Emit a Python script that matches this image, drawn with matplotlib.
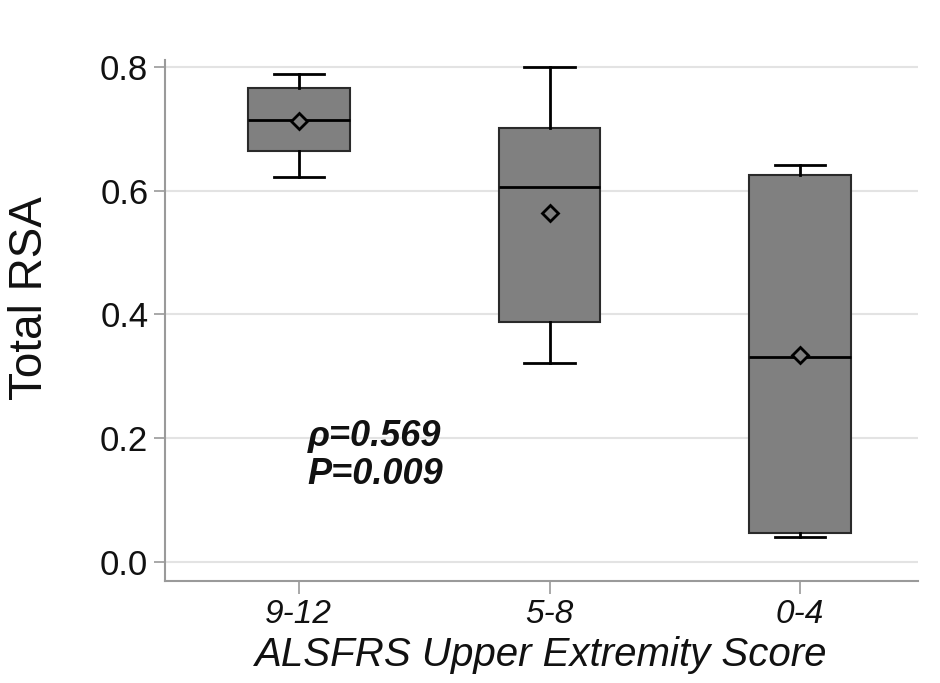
import matplotlib.pyplot as plt

# --- data ---
groups = ["9-12", "5-8", "0-4"]
whisker_low = [0.622, 0.322, 0.040]
q1 = [0.664, 0.388, 0.047]
medians = [0.714, 0.606, 0.331]
q3 = [0.766, 0.701, 0.625]
whisker_high = [0.789, 0.800, 0.642]
means = [0.713, 0.564, 0.335]
y_ticks = [0.0, 0.2, 0.4, 0.6, 0.8]

stats = []
for i, name in enumerate(groups):
    stats.append({
        "label": name,
        "whislo": whisker_low[i],
        "q1": q1[i],
        "med": medians[i],
        "q3": q3[i],
        "whishi": whisker_high[i],
        "mean": means[i],
        "fliers": [],
    })

plt.rcParams['font.family'] = ['Liberation Sans', 'DejaVu Sans']

fig = plt.figure(figsize=(9.4, 6.83), dpi=100)
ax = fig.add_axes([0.1755, 0.1493, 0.8011, 0.7627])

# grid first so boxes sit on top
for v in y_ticks:
    ax.axhline(v, color='#e3e3e3', lw=1.5, zorder=0)

ax.bxp(stats, positions=[1, 2, 3], widths=0.405, patch_artist=True,
       showmeans=True, showfliers=False,
       boxprops=dict(facecolor='#808080', edgecolor='#2a2a2a', lw=1.5),
       medianprops=dict(color='black', lw=2),
       whiskerprops=dict(color='black', lw=2),
       capprops=dict(color='black', lw=2),
       capwidths=0.2,
       meanprops=dict(marker='D', markerfacecolor='#808080',
                      markeredgecolor='black', markeredgewidth=2,
                      markersize=8),
       zorder=2)

ax.set_xlim(0.466, 3.47)
ax.set_ylim(-0.0307, 0.811)
ax.set_yticks(y_ticks)
ax.set_yticklabels([f"{v:.1f}" for v in y_ticks], fontsize=25)
ax.set_xticks([1, 2, 3])
ax.set_xticklabels(groups, fontsize=24, style='italic')

for s in ['top', 'right']:
    ax.spines[s].set_visible(False)
for s in ['left', 'bottom']:
    ax.spines[s].set_color('#9a9a9a')
    ax.spines[s].set_linewidth(1.5)
ax.tick_params(axis='both', colors='#9a9a9a', width=1.2, labelcolor='#111111')
ax.tick_params(axis='y', length=8, pad=4)
ax.tick_params(axis='x', length=9, pad=4)

ax.set_ylabel("Total RSA", fontsize=33, color='#111111')
ax.yaxis.set_label_coords(-0.15, 0.543)
ax.set_xlabel("ALSFRS Upper Extremity Score", fontsize=29, style='italic',
              color='#111111', labelpad=4)

ax.text(1.036, 0.172, "ρ=0.569\nP=0.009", fontsize=26, fontweight='bold',
        style='italic', ha='left', va='center', linespacing=1.1,
        color='#111111')

fig.savefig("out.png", dpi=100)
